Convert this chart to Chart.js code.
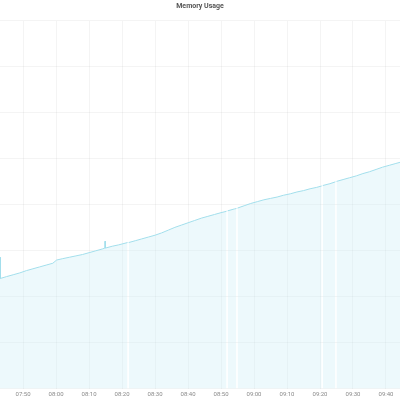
<!DOCTYPE html>
<html>
<head>
<meta charset="utf-8">
<script src="https://cdn.jsdelivr.net/npm/chart.js@4/dist/chart.umd.min.js"></script>
<style>
  html, body { margin: 0; padding: 0; background: #fff; }
  #wrap { position: relative; width: 400px; height: 400px; }
</style>
</head>
<body>
<div id="wrap"><canvas id="c"></canvas></div>
<script>
const chartTitle = "Memory Usage";
const times = [
  "07:43:00","07:43:08","07:45:00","07:47:00","07:49:00","07:51:00","07:53:00","07:55:00","07:57:00","07:59:00",
  "08:00:10","08:02:00","08:04:00","08:06:00","08:08:00","08:10:00","08:12:00","08:14:00","08:14:48","08:14:50",
  "08:14:52","08:15:00","08:17:00","08:19:00","08:21:40","08:21:50","08:22:00","08:24:00","08:26:00","08:28:00",
  "08:30:00","08:32:00","08:34:00","08:36:00","08:38:00","08:40:00","08:42:00","08:44:00","08:46:00","08:48:00",
  "08:50:00","08:51:40","08:51:50","08:52:00","08:54:00","08:54:40","08:54:50","08:55:00","08:57:00","08:59:00",
  "09:01:00","09:03:00","09:05:00","09:07:00","09:09:00","09:11:00","09:13:00","09:15:00","09:17:00","09:19:00",
  "09:20:30","09:20:40","09:20:50","09:23:00","09:24:40","09:24:50","09:25:00","09:27:00","09:29:00","09:31:00",
  "09:33:00","09:35:00","09:37:00","09:39:00","09:41:00","09:43:00","09:44:30"
];
const memoryUsed = [
  2.86,2.40,2.44,2.48,2.52,2.57,2.61,2.65,2.69,2.73,
  2.80,2.83,2.86,2.89,2.92,2.96,3.00,3.04,3.06,3.21,
  3.06,3.06,3.10,3.13,3.18,null,3.18,3.22,3.26,3.30,
  3.34,3.39,3.45,3.51,3.56,3.61,3.66,3.71,3.75,3.79,
  3.83,3.86,null,3.87,3.91,3.92,null,3.93,3.98,4.03,
  4.07,4.11,4.14,4.17,4.21,4.24,4.28,4.31,4.35,4.38,
  4.41,null,4.42,4.46,4.50,null,4.51,4.55,4.59,4.63,
  4.68,4.72,4.77,4.82,4.86,4.90,4.93
];
const xTickLabels = ["07:50","08:00","08:10","08:20","08:30","08:40","08:50","09:00","09:10","09:20","09:30","09:40"];
const xRange = ["07:43:00","09:44:15"];
const yRange = [0, 8];

function toMin(s) {
  const p = s.split(":").map(Number);
  return p[0] * 60 + p[1] + (p[2] || 0) / 60;
}
const tickValues = xTickLabels.map(toMin);
const points = times.map((t, i) => ({ x: toMin(t), y: memoryUsed[i] }));

function fmt(v) {
  const h = Math.floor(v / 60), m = Math.round(v - h * 60);
  return String(h).padStart(2, "0") + ":" + String(m).padStart(2, "0");
}

const gridColor = "rgba(0,0,0,0.045)";
new Chart(document.getElementById("c"), {
  type: "line",
  data: {
    datasets: [{
      label: "Memory",
      data: points,
      borderColor: "#a3dfec",
      backgroundColor: "rgba(200,236,246,0.32)",
      borderWidth: 1,
      pointRadius: 0,
      tension: 0,
      fill: "origin",
      spanGaps: false
    }]
  },
  options: {
    responsive: true,
    maintainAspectRatio: false,
    animation: false,
    layout: { padding: 0 },
    plugins: {
      legend: { display: false },
      tooltip: { enabled: false },
      title: {
        display: true,
        text: chartTitle,
        color: "#555",
        font: { family: "Roboto", size: 7, weight: "bold" },
        padding: { top: 2, bottom: 10.5 }
      }
    },
    scales: {
      x: {
        type: "linear",
        min: toMin(xRange[0]),
        max: toMin(xRange[1]),
        afterBuildTicks: (scale) => { scale.ticks = tickValues.map(v => ({ value: v })); },
        grid: { color: gridColor, drawTicks: false },
        border: { display: false },
        ticks: {
          color: "#8a8a8a",
          font: { family: "Roboto", size: 6 },
          padding: 2,
          maxRotation: 0,
          autoSkip: false,
          callback: (v) => fmt(v)
        }
      },
      y: {
        min: yRange[0],
        max: yRange[1],
        ticks: { display: false, stepSize: 1 },
        grid: { color: gridColor, drawTicks: false },
        border: { display: false }
      }
    }
  }
});
</script>
</body>
</html>
